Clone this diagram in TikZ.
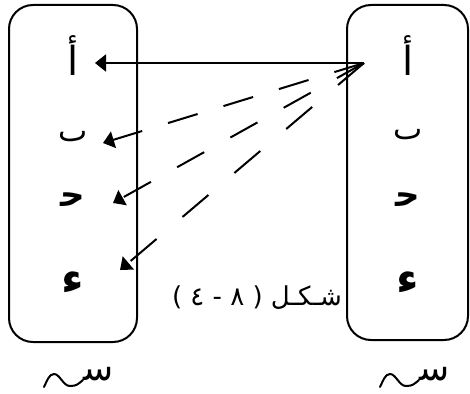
\documentclass[tikz,border=0pt]{standalone}
\usepackage{fontspec}
\TeXXeTstate=1
\newfontfamily\arabicfont[Script=Arabic]{DejaVu Sans}
\newfontfamily\plainfont{DejaVu Sans}
\usetikzlibrary{arrows.meta}
\begin{document}
\begin{tikzpicture}[x=1pt,y=-1pt,
  setbox/.style={draw,line width=2pt,rounded corners=24pt},
  alef/.style={font=\arabicfont\fontsize{40}{44}\selectfont,inner sep=0pt},
  beh/.style={font=\arabicfont\fontsize{31}{35}\selectfont,inner sep=0pt},
  heavy/.style={font=\arabicfont\bfseries\fontsize{34}{38}\selectfont,inner sep=0pt},
  hamza/.style={font=\arabicfont\bfseries\fontsize{44}{48}\selectfont,inner sep=0pt},
  setname/.style={font=\arabicfont\fontsize{36}{40}\selectfont,inner sep=0pt},
  caption/.style={font=\arabicfont\fontsize{26}{30}\selectfont,inner sep=0pt},
  link/.style={line width=2pt,-{Triangle[length=11pt,width=17pt]}},
  tilde/.style={line width=2pt,line cap=round}]
\useasboundingbox (0,0) rectangle (470,393);

% the two sets
\draw[setbox] (9,5) rectangle (137,342);
\draw[setbox] (347,5) rectangle (468,340);

% elements of the left set
\node[alef] (la) at (73,56) {أ};
\node[beh] (lb) at (73,137) {ٮ};
\node[heavy] (lc) at (73,200) {^^^^fea3};
\node[hamza] (ld) at (73,283) {ء};

% elements of the right set
\node[alef] (ra) at (408,56) {أ};
\node[beh] (rb) at (408,135) {ٮ};
\node[heavy] (rc) at (408,200) {^^^^fea3};
\node[hamza] (rd) at (408,283) {ء};

% the mapping from the first element
\coordinate (hub) at (364,63);
\coordinate (tipA) at (95,63);
\coordinate (tipB) at (103,143);
\coordinate (tipC) at (113,203);
\coordinate (tipD) at (120,270);
\draw[link] (hub) -- (tipA);
\draw[link,dash pattern=on 31pt off 27pt] (hub) -- (tipB);
\draw[link,dash pattern=on 31pt off 30pt] (hub) -- (tipC);
\draw[link,dash pattern=on 34pt off 34pt] (hub) -- (tipD);

% caption
\node[caption] (cap) at (257,298)
  {\beginR شـكـل \beginL{\plainfont ( ٤ - ٨ )}\endL\endR};

% set names
\node[setname,anchor=base west] (sl) at (83,380) {^^^^feb3};
\draw[tilde] (sl.base west) .. controls +(-5,4) and +(7,0) .. ++(-13,6)
  .. controls +(-7,0) and +(6,0) .. ++(-16,-12)
  .. controls +(-5,0) and +(3,-6) .. ++(-10,13);
\node[setname,anchor=base west] (sr) at (419,380) {^^^^feb3};
\draw[tilde] (sr.base west) .. controls +(-5,4) and +(7,0) .. ++(-13,6)
  .. controls +(-7,0) and +(6,0) .. ++(-16,-12)
  .. controls +(-5,0) and +(3,-6) .. ++(-10,13);
\end{tikzpicture}
\end{document}
